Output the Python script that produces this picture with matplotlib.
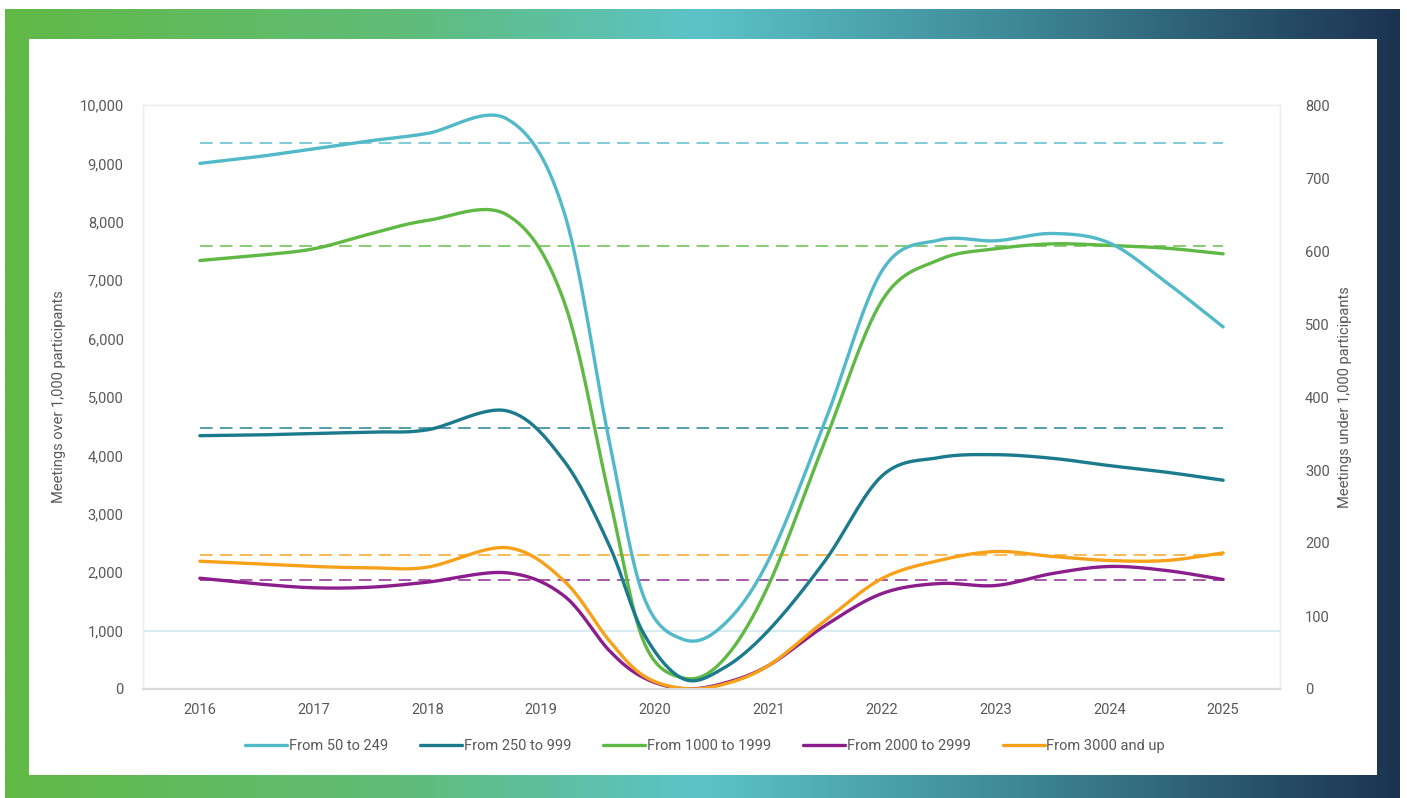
import numpy as np
import matplotlib
matplotlib.use("Agg")
import matplotlib.pyplot as plt
from matplotlib.colors import LinearSegmentedColormap
from matplotlib.patches import Rectangle

plt.rcParams['font.family'] = ['Roboto', 'DejaVu Sans']

# --------------------------------------------
# Data (at the curve's knots)
# --------------------------------------------
years = [2016, 2016.5, 2017, 2017.5, 2018, 2018.7, 2019.2, 2019.6, 2019.9, 2020.25,
         2020.6, 2021, 2021.5, 2022, 2022.5, 2023, 2023.5, 2024, 2024.5, 2025]
tick_years = list(range(2016, 2026))

# right axis (meetings under 1,000 participants)
s_50_249 = [720, 729, 740, 751, 761, 781, 655, 340, 128, 68,
            87, 176, 367, 573, 615, 614, 624, 611, 557, 496]
s_250_999 = [347, 348, 350, 352, 355, 381, 313, 197, 77, 14,
             28, 80, 176, 292, 317, 321, 316, 306, 297, 286]
# left axis (meetings over 1,000 participants)
s_1000_1999 = [7337, 7423, 7537, 7794, 8022, 8120, 6652, 3300, 830, 190,
               490, 1772, 4255, 6652, 7349, 7537, 7623, 7594, 7548, 7452]
s_2000_2999 = [1897, 1801, 1733, 1743, 1829, 1990, 1600, 660, 197, 5,
               94, 400, 1087, 1635, 1806, 1772, 1978, 2098, 2029, 1875]
s_3000_up = [2188, 2143, 2098, 2075, 2086, 2420, 1858, 830, 230, 10,
             77, 400, 1173, 1892, 2200, 2354, 2269, 2200, 2200, 2330]

# reference (dashed) levels
ref_50_249 = 748
ref_250_999 = 358
ref_1000_1999 = 7590
ref_2000_2999 = 1860
ref_3000_up = 2290

labels = ["From 50 to 249", "From 250 to 999", "From 1000 to 1999",
          "From 2000 to 2999", "From 3000 and up"]
colors = ["#52b9c9", "#1b7b8d", "#5fb944", "#8c1d8c", "#f7a11a"]


def smooth(x, y, n=30):
    # Catmull-Rom spline, similar to Excel's smoothed line
    pts = np.column_stack([x, y]).astype(float)
    P = np.vstack([2 * pts[0] - pts[1], pts, 2 * pts[-1] - pts[-2]])
    t = np.linspace(0, 1, n, endpoint=False)[:, None]
    out = []
    for i in range(1, len(P) - 2):
        p0, p1, p2, p3 = P[i - 1:i + 3]
        seg = 0.5 * ((2 * p1) + (-p0 + p2) * t
                     + (2 * p0 - 5 * p1 + 4 * p2 - p3) * t ** 2
                     + (-p0 + 3 * p1 - 3 * p2 + p3) * t ** 3)
        out.append(seg)
    out.append(pts[-1:])
    c = np.vstack(out)
    return c[:, 0], np.clip(c[:, 1], 0, None)


W, H = 1407, 798
fig = plt.figure(figsize=(W / 100, H / 100), dpi=100)

# --------------------------------------------
# Gradient frame + white panel
# --------------------------------------------
bg = fig.add_axes([0, 0, 1, 1], zorder=0)
cmap = LinearSegmentedColormap.from_list(
    "frame", [(0, "#62b946"), (0.28, "#60bc78"), (0.5, "#5cc3c8"),
              (0.72, "#3f8a98"), (1, "#1c3350")])
grad = np.linspace(0, 1, 512)[None, :]
bg.imshow(grad, cmap=cmap, aspect="auto", extent=[5, 1400, 798, 9])
bg.add_patch(Rectangle((29, 39), 1348, 736, facecolor="white", edgecolor="none"))
bg.set_xlim(0, W)
bg.set_ylim(H, 0)
bg.axis("off")

# --------------------------------------------
# Main chart
# --------------------------------------------
ax = fig.add_axes([143 / W, 1 - 689 / H, (1280 - 143) / W, (689 - 105) / H], zorder=1)
ax.set_facecolor("none")
ax2 = ax.twinx()

ax.set_xlim(2015.5, 2025.5)
ax.set_ylim(0, 10000)
ax2.set_ylim(0, 800)

ax.axhline(1000, color="#cfe8f0", lw=1.2, zorder=1)

series = [(ax2, s_50_249, ref_50_249), (ax2, s_250_999, ref_250_999),
          (ax, s_1000_1999, ref_1000_1999), (ax, s_2000_2999, ref_2000_2999),
          (ax, s_3000_up, ref_3000_up)]

handles = []
for (a, vals, ref), lab, col in zip(series, labels, colors):
    a.plot([2016, 2025], [ref, ref], color=col, lw=1.3, dashes=(7, 4), alpha=0.8, zorder=2)
    xs, ys = smooth(years, vals)
    h, = a.plot(xs, ys, color=col, lw=2.4, solid_capstyle="round", zorder=3, label=lab)
    handles.append(h)

ax.set_xticks(tick_years)
ax.set_xticklabels([str(y) for y in tick_years])
ax.set_yticks(range(0, 10001, 1000))
ax.set_yticklabels([f"{v:,}" for v in range(0, 10001, 1000)])
ax2.set_yticks(range(0, 801, 100))

for a in (ax, ax2):
    a.tick_params(length=0, labelsize=10.5, colors="#595959")
    for s in a.spines.values():
        s.set_color("#eeeeee")
        s.set_linewidth(1)
    a.spines["bottom"].set_color("#d9d9d9")
    a.spines["bottom"].set_linewidth(1.5)
ax.tick_params(axis="y", pad=14)
ax.tick_params(axis="x", pad=10)
ax2.tick_params(axis="y", pad=18)

ax.set_ylabel("Meetings over 1,000 participants", fontsize=10.5, color="#595959", labelpad=10)
ax2.set_ylabel("Meetings under 1,000 participants", fontsize=10.5, color="#595959", labelpad=6)

fig.legend(handles=handles, labels=labels, loc="center", bbox_to_anchor=(705 / W, 1 - 746 / H),
           ncol=5, frameon=False, fontsize=10.5, handlelength=2.9, handletextpad=0.1,
           columnspacing=2.2, labelcolor="#595959")

fig.savefig("out.png", dpi=100)
